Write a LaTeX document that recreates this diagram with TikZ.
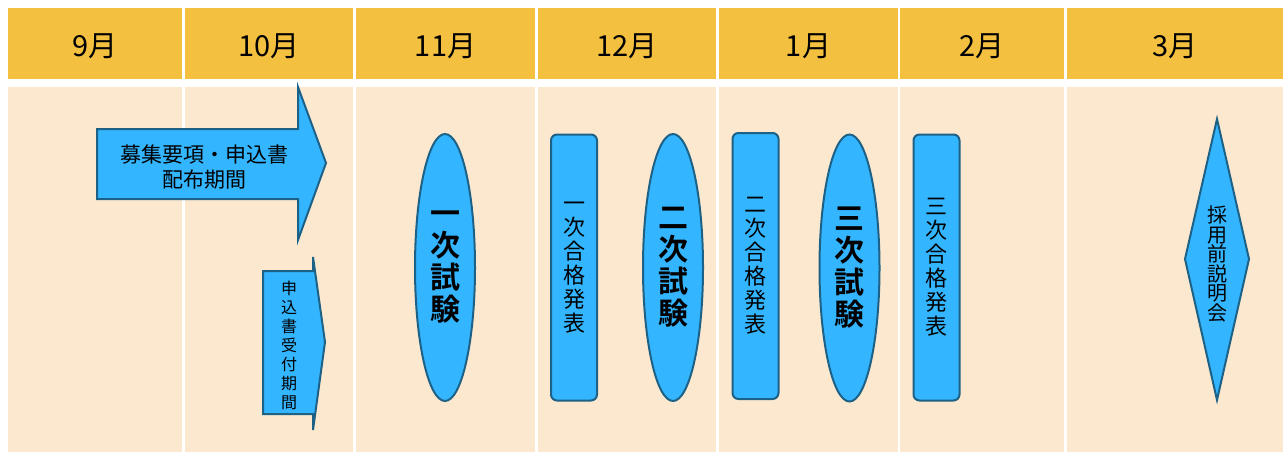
\documentclass[tikz,border=0pt]{standalone}
\usepackage{fontspec}
\newfontfamily\jp[BoldFont={Noto Sans CJK JP Bold}]{Noto Sans CJK JP}
\usetikzlibrary{shapes.geometric}
\definecolor{headgold}{HTML}{F4C040}
\definecolor{bodypeach}{HTML}{FCE7CF}
\definecolor{boxblue}{HTML}{33B5FF}
\definecolor{edgeblue}{HTML}{1D6286}
\tikzset{
	monthlabel/.style={font=\jp\fontsize{29}{31}\selectfont},
	flow/.style={fill=boxblue, draw=edgeblue, line width=2pt, line join=miter},
	exam/.style={flow, ellipse, inner sep=0pt, minimum width=60pt, minimum height=267pt,
		align=center, font=\jp\bfseries\fontsize{30}{32}\selectfont},
	result/.style={flow, rectangle, rounded corners=6pt, inner sep=0pt, minimum width=46pt,
		minimum height=266pt, align=center, font=\jp\fontsize{22}{24}\selectfont},
}
\begin{document}
\begin{tikzpicture}[x=1pt,y=-1pt]
		\useasboundingbox (0,0) rectangle (1283,452);
		% months
		\foreach \l/\r/\m [count=\i] in {8/182/9月, 185/353/10月, 356/535/11月, 538/716/12月,
			719/898/1月, 900/1064/2月, 1067/1283/3月} {
			\fill[headgold] (\l,8) rectangle (\r,79);
			\fill[bodypeach] (\l,87) rectangle (\r,452);
			\node[monthlabel] (m\i) at ({(\l+\r)/2},46) {\m};
		}
		% application periods
		\draw[flow] (97,129) -- (298,129) -- (298,87) -- (326,163) -- (298,240) -- (298,199) -- (97,199) -- cycle;
		\node[align=center, font=\jp\fontsize{21}{25}\selectfont] (haifu) at (204,167) {募集要項・申込書\\配布期間};
		\draw[flow] (263,271) -- (313,271) -- (313,257) -- (325,342) -- (313,430) -- (313,414) -- (263,414) -- cycle;
		\node[align=center, font=\jp\fontsize{16}{19}\selectfont] (uketsuke) at (289,345) {申\\込\\書\\受\\付\\期\\間};
		% exams and results
		\node[exam] (exam1) at (445,267.5) {一\\次\\試\\験};
		\node[result] (res1) at (574,267.5) {一\\次\\合\\格\\発\\表};
		\node[exam] (exam2) at (673,267.5) {二\\次\\試\\験};
		\node[result] (res2) at (755.5,266) {二\\次\\合\\格\\発\\表};
		\node[exam] (exam3) at (849.5,268) {三\\次\\試\\験};
		\node[result] (res3) at (936.5,267.5) {三\\次\\合\\格\\発\\表};
		% briefing
		\draw[flow] (1217,119) -- (1249,259) -- (1217,400) -- (1185,259) -- cycle;
		\node[align=center, font=\jp\fontsize{20}{19.6}\selectfont] (setsumei) at (1217,264) {採\\用\\前\\説\\明\\会};
\end{tikzpicture}
\end{document}
